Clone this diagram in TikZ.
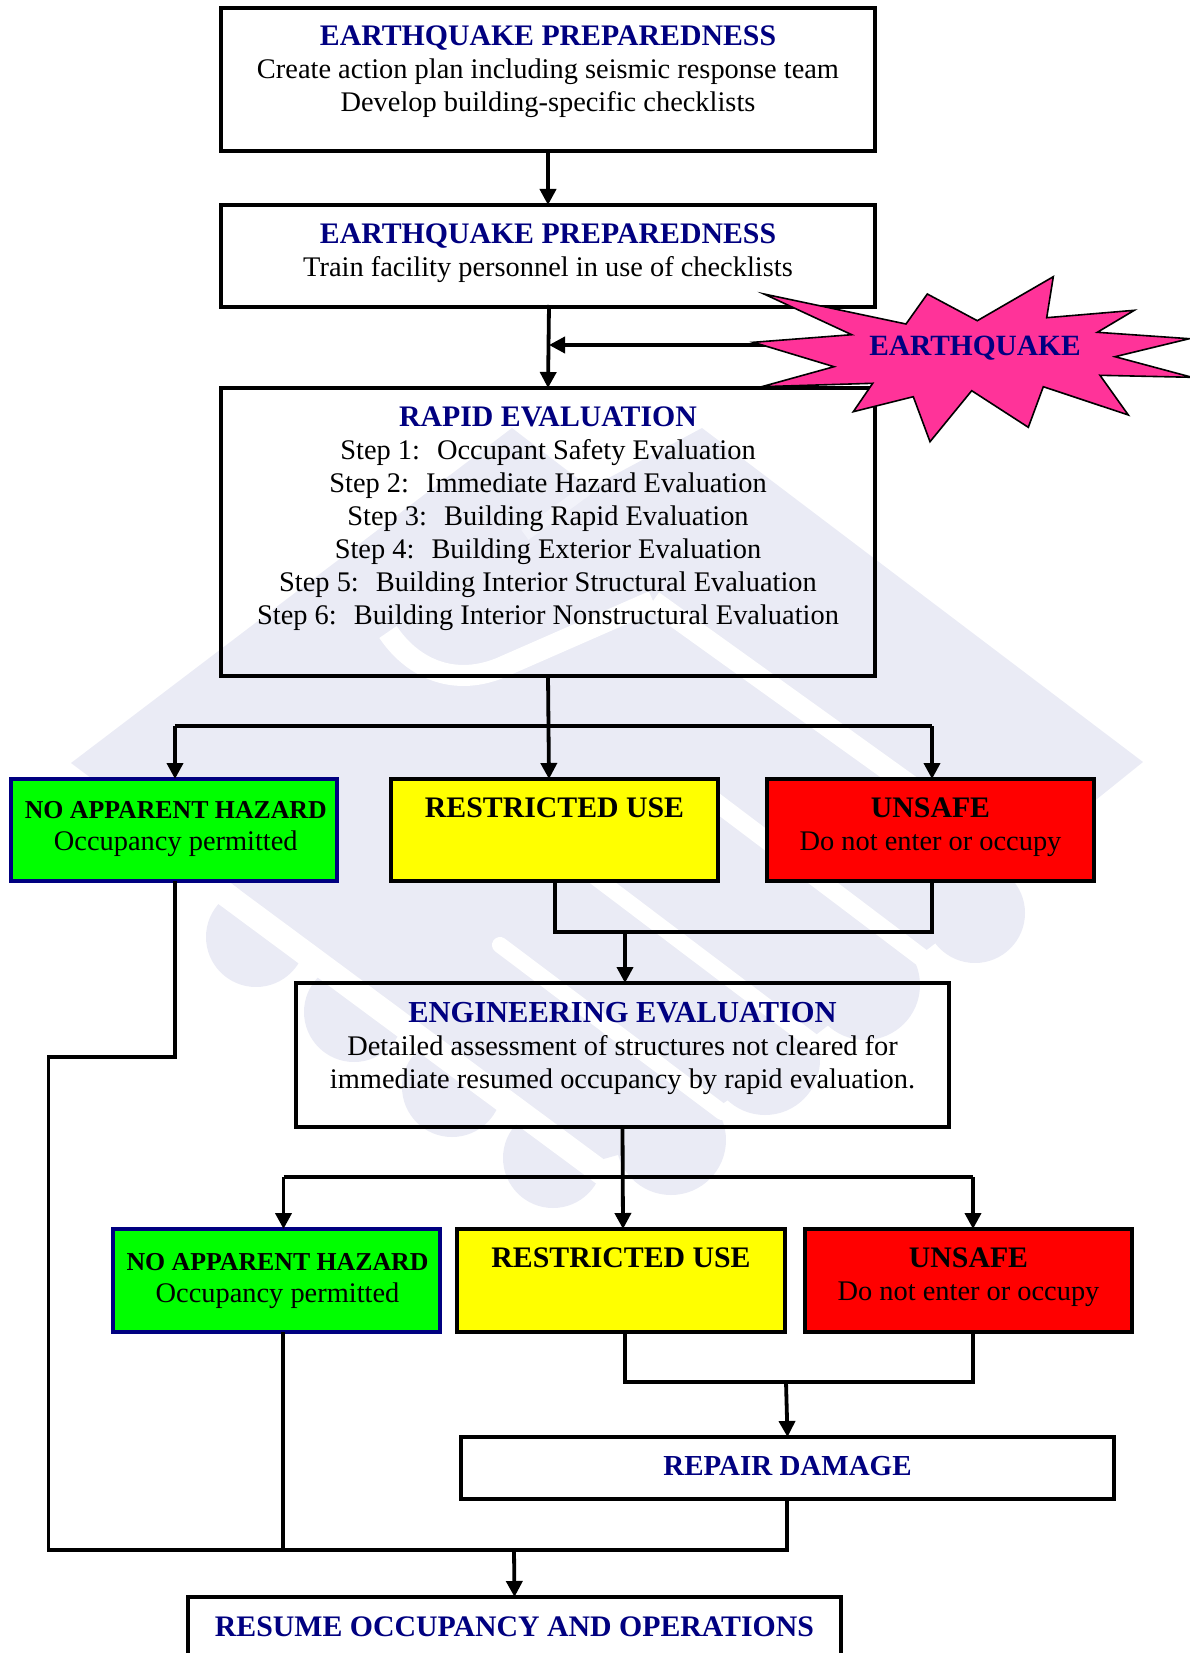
\documentclass[tikz,border=0pt]{standalone}
\usepackage{fontspec}
\setmainfont{Liberation Serif}
\usetikzlibrary{arrows.meta}
\definecolor{navyh}{HTML}{000080}
\definecolor{wmark}{HTML}{EAEBF5}
\definecolor{wmfaint}{HTML}{F2F3FA}
\definecolor{starpink}{HTML}{FF3399}
\definecolor{okgreen}{HTML}{00FF00}
\definecolor{cautiony}{HTML}{FFFF00}
\definecolor{dangerr}{HTML}{FF0000}
\newcommand{\bodyf}{\fontsize{28.4}{33}\selectfont}
\newcommand{\hdf}{\fontsize{29.8}{33}\selectfont\bfseries\color{navyh}}
\newcommand{\hdk}{\fontsize{29.8}{33}\selectfont\bfseries}
\newcommand{\hdg}{\fontsize{25.8}{33}\selectfont\bfseries}
% width, height, first baseline offset, content
\newcommand{\tb}[4]{\parbox[c][#2pt][t]{#1pt}{\centering\bodyf\vspace*{\dimexpr#3pt-23.1pt\relax}\strut#4\par}}
\tikzset{
  fbox/.style={draw=black,line width=3.6pt,inner sep=0pt,outer sep=0pt,rectangle,line join=miter},
  gbox/.style={fbox,draw=navyh,fill=okgreen},
  ybox/.style={fbox,fill=cautiony},
  rbox/.style={fbox,fill=dangerr},
  link/.style={draw=black,line width=3.8pt,line join=miter},
  arr/.style={link,-{Triangle[length=16pt,width=16pt]}},
  wmshape/.style={fill=wmark,draw=none},
  wmcut/.style={draw=white,line cap=butt},
  staredge/.style={fill=starpink,draw=black,line width=1.6pt,line join=miter}
}
\begin{document}
\begin{tikzpicture}[x=1pt,y=-1pt]
\path[use as bounding box,clip] (0,0) rectangle (1190,1653);
% watermark
\fill[wmshape] (71,763) -- (512,428) -- (590,488) -- (702,428) -- (1143,762) -- (1005,873) -- (975,913) -- (865,997) -- (765,1074) -- (671,1140) -- (600,1160) -- cycle;
\foreach \cx/\cy/\r in {256/937/50,354/1012/50,452/1087/50,553/1158/50,671/1140/55,765/1060/55,865/985/55,975/913/50}
  \fill[wmshape] (\cx,\cy) circle[radius=\r];
\draw[wmcut,line width=24pt] (190,868) -- (625,1190);
\draw[wmcut,line width=16pt,line cap=round] (500,945) -- (722,1112);
\draw[wmcut,line width=16pt] (480,790) -- (840,1062);
\draw[wmcut,line width=18pt] (700,790) -- (925,960);
\draw[wmcut,line width=21pt] (653,601) -- (1060,893);
\draw[wmcut,line width=21pt] (653,601) -- (500,668) .. controls (450,688) and (410,665) .. (388,632);
\draw[draw=wmfaint,line width=12pt] (592,486) -- (525,535);
% boxes
\node[fbox,minimum width=654pt,minimum height=143pt] (b1) at (548,79.5) {\tb{654}{143}{38}{{\hdf EARTHQUAKE PREPAREDNESS}\\Create action plan including seismic response team\\Develop building-specific checklists}};
\node[fbox,minimum width=654pt,minimum height=102pt] (b2) at (548,256) {\tb{654}{102}{38}{{\hdf EARTHQUAKE PREPAREDNESS}\\Train facility personnel in use of checklists}};
\node[fbox,minimum width=654pt,minimum height=288pt] (b3) at (548,532) {\tb{654}{288}{38.5}{{\hdf RAPID EVALUATION}\\Step 1:\hspace{.6em}Occupant Safety Evaluation\\Step 2:\hspace{.6em}Immediate Hazard Evaluation\\Step 3:\hspace{.6em}Building Rapid Evaluation\\Step 4:\hspace{.6em}Building Exterior Evaluation\\Step 5:\hspace{.6em}Building Interior Structural Evaluation\\Step 6:\hspace{.6em}Building Interior Nonstructural Evaluation}};
\node[gbox,minimum width=326pt,minimum height=102pt] (g1) at (174,830) {\tb{326}{102}{39}{{\hspace*{3.6pt}\hdg NO APPARENT HAZARD}\\[-1pt]\hspace*{3.6pt}Occupancy permitted}};
\node[ybox,minimum width=327pt,minimum height=102pt] (y1) at (554.5,830) {\tb{327}{102}{38}{{\hdk RESTRICTED USE}}};
\node[rbox,minimum width=327pt,minimum height=102pt] (r1) at (930.5,830) {\tb{327}{102}{38}{{\hdk UNSAFE}\\Do not enter or occupy}};
\node[fbox,minimum width=653pt,minimum height=144pt] (e1) at (622.5,1055) {\tb{653}{144}{39}{{\fontsize{30.5}{33}\selectfont\bfseries\color{navyh}ENGINEERING EVALUATION}\\Detailed assessment of structures not cleared for\\immediate resumed occupancy by rapid evaluation.}};
\node[gbox,minimum width=327pt,minimum height=103pt] (g2) at (276.5,1280.5) {\tb{327}{103}{41}{{\hspace*{2pt}\hdg NO APPARENT HAZARD}\\[-1pt]\hspace*{2pt}Occupancy permitted}};
\node[ybox,minimum width=328pt,minimum height=103pt] (y2) at (621,1280.5) {\tb{328}{103}{38.5}{{\hdk RESTRICTED USE}}};
\node[rbox,minimum width=327pt,minimum height=103pt] (r2) at (968.5,1280.5) {\tb{327}{103}{38.5}{{\hdk UNSAFE}\\Do not enter or occupy}};
\node[fbox,minimum width=653pt,minimum height=62pt] (rp) at (787.5,1468) {\tb{653}{62}{38.5}{{\fontsize{29}{33}\selectfont\bfseries\color{navyh}REPAIR DAMAGE}}};
\node[fbox,minimum width=653pt,minimum height=100pt] (rs) at (514.5,1647) {\tb{653}{100}{39}{{\hdf RESUME OCCUPANCY AND OPERATIONS}}};
% junctions
\coordinate (b2out) at (549,305);
\coordinate (quake) at (549,345);
\coordinate (eqtail) at (770,345);
\coordinate (hub1) at (548,726);
\coordinate (y1in) at (549,779);
\coordinate (h1l) at (175,726);
\coordinate (h1r) at (932,726);
\coordinate (mrg1) at (625,932);
\coordinate (y1low) at (555,932);
\coordinate (r1low) at (932,932);
\coordinate (hub2) at (623,1177);
\coordinate (h2l) at (283.5,1177);
\coordinate (h2r) at (973,1177);
\coordinate (mrg2) at (786,1382);
\coordinate (y2low) at (625,1382);
\coordinate (r2low) at (973,1382);
\coordinate (g1a) at (175,1057);
\coordinate (g1b) at (48.5,1057);
\coordinate (g1c) at (48.5,1550);
\coordinate (rpjoin) at (787,1550);
\coordinate (g2join) at (283,1550);
\coordinate (rsin) at (514,1550);
% connectors
\draw[arr] (b1.south) -- (b2.north);
\draw[arr] (b2out) -- (b3.north);
\draw[arr] (eqtail) -- (quake);
\draw[arr] (b3.south) -- (y1in);
\draw[link] (h1l) -- (h1r);
\draw[arr] (h1l) -- (h1l |- g1.north);
\draw[arr] (h1r) -- (h1r |- r1.north);
\draw[link] (h1l |- g1.south) -- (g1a) -- (g1b) -- (g1c) -- (rpjoin) -- (rpjoin |- rp.south);
\draw[link] (y1low |- y1.south) -- (y1low) -- (r1low) -- (r1low |- r1.south);
\draw[arr] (mrg1) -- (mrg1 |- e1.north);
\draw[arr] (e1.south) -- (hub2 |- y2.north);
\draw[link] (h2l) -- (h2r);
\draw[arr] (h2l) -- (h2l |- g2.north);
\draw[arr] (h2r) -- (h2r |- r2.north);
\draw[link] (g2join |- g2.south) -- (g2join);
\draw[link] (y2low |- y2.south) -- (y2low) -- (r2low) -- (r2low |- r2.south);
\draw[arr] (mrg2) -- (rp.north);
\draw[arr] (rsin) -- (rs.north);
% star
\draw[staredge] (764,294) -- (906,324) -- (927.3,294) -- (977.3,320.7) -- (1053.3,276.7) -- (1046.7,317.7) -- (1134.3,310.3) -- (1097.3,332.3) -- (1189.3,338.7) -- (1115,356.7) -- (1192,377.3) -- (1100,375.3) -- (1128.3,415) -- (1043.3,386.7) -- (1028.3,427.3) -- (971.7,390.7) -- (930,441.7) -- (913.3,396.7) -- (853.3,411.7) -- (872.7,383.3) -- (761.7,386.7) -- (834,366.7) -- (753.3,342.3) -- (851.7,334.7) -- cycle;
\node[inner sep=0pt,anchor=base] (eq) at (975,355.5) {\fontsize{29.4}{33}\selectfont\bfseries\color{navyh}EARTHQUAKE};
\end{tikzpicture}
\end{document}
